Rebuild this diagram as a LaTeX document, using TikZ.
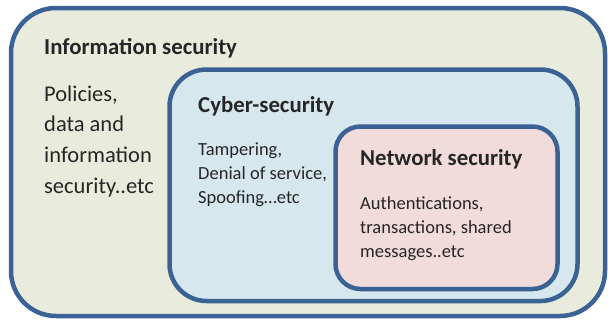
\documentclass[tikz,border=0pt]{standalone}
\usepackage{fontspec}
\setmainfont{Carlito}
\definecolor{rim}{HTML}{3B6294}
\definecolor{infofill}{HTML}{E9ECDC}
\definecolor{cyberfill}{HTML}{D6E7EE}
\definecolor{netfill}{HTML}{F1DBDB}
\definecolor{ink}{HTML}{262626}
\tikzset{
  area/.style={draw=rim, line width=4.5pt, inner sep=0pt, rectangle},
  heading/.style={anchor=base west, inner sep=0pt, text=ink,
    font=\fontsize{22.8}{27}\selectfont\bfseries},
  % multi-line blocks: the base anchor sits on the last line
  bigtext/.style={anchor=base west, inner sep=0pt, text=ink, align=left,
    font=\fontsize{22.5}{30.6}\selectfont},
  smalltext/.style={anchor=base west, inner sep=0pt, text=ink, align=left,
    font=\fontsize{18.5}{24}\selectfont},
}
\begin{document}
\begin{tikzpicture}[x=1pt, y=-1pt]
\useasboundingbox (0,0) rectangle (609,322);
% nested areas
\node[area, fill=infofill, rounded corners=45pt,
  minimum width=594pt, minimum height=308pt] (info) at (308,162) {};
\node[area, fill=cyberfill, rounded corners=37pt,
  minimum width=408pt, minimum height=231.5pt] (cyber) at (373.5,185.25) {};
\node[area, fill=netfill, rounded corners=25pt,
  minimum width=222pt, minimum height=162.5pt] (net) at (446.5,207.75) {};
% labels
\node[heading] (infotitle) at (44,54) {Information security};
\node[bigtext] (infobody) at (44,193) {Policies,\\data and\\information\\security..etc};
\node[heading] (cybertitle) at (198,112) {Cyber-security};
\node[smalltext] (cyberbody) at (198,203) {Tampering,\\Denial of service,\\Spoofing…etc};
\node[heading] (nettitle) at (360,165) {Network security};
\node[smalltext] (netbody) at (360,257) {Authentications,\\transactions, shared\\messages..etc};
\end{tikzpicture}
\end{document}
